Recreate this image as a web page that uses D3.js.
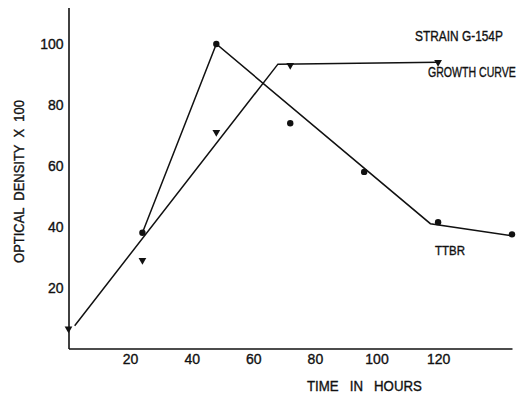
<!DOCTYPE html>
<html><head><meta charset="utf-8">
<script src="https://cdn.jsdelivr.net/npm/d3@7"></script>
<style>
html,body{margin:0;padding:0;background:#fff;}
svg text{font-family:"Liberation Sans",Arial,sans-serif;fill:#111;stroke:#111;stroke-width:0.35px;white-space:pre;}
</style></head>
<body>
<svg id="c" width="521" height="396"></svg>
<script>
// Data
const xTicks = [20, 40, 60, 80, 100, 120];
const yTicks = [20, 40, 60, 80, 100];
// Growth curve (triangles)
const growthHours = [0, 24, 48, 72, 120];
const growthValues = [6.5, 29, 71, 93, 94];
const growthLineHours = [2, 68, 120];
const growthLineValues = [7.5, 93.4, 94];
// TTBR (circles)
const ttbrHours = [24, 48, 72, 96, 120, 144];
const ttbrValues = [38, 100, 74, 58, 41.5, 37.5];
const ttbrLineHours = [24, 48, 117.5, 144];
const ttbrLineValues = [38, 100, 41, 37];

const svg = d3.select("#c");
const x = d3.scaleLinear().domain([0, 144]).range([68.5, 512]);
const y = d3.scaleLinear().domain([0, 112]).range([348.5, 7.5]);

// axes
const xAxis = d3.axisBottom(x).tickValues(xTicks).tickSize(0).tickSizeOuter(0).tickPadding(6);
const gx = svg.append("g").attr("transform", `translate(0,${y(0)})`).call(xAxis);
gx.select(".domain").attr("stroke", "#111").attr("stroke-width", 1.6);
gx.selectAll("text").attr("font-size", 14).attr("dy", "0.72em").attr("y", 5);

const yAxis = d3.axisLeft(y).tickValues(yTicks).tickSize(0).tickSizeOuter(0).tickPadding(5);
const gy = svg.append("g").attr("transform", `translate(${x(0)},0)`).call(yAxis);
gy.select(".domain").attr("stroke", "#111").attr("stroke-width", 1.6);
gy.selectAll("text").attr("font-size", 14);

// lines
const line = d3.line().x(d => x(d[0])).y(d => y(d[1]));
svg.append("path").datum(growthLineHours.map((h, i) => [h, growthLineValues[i]]))
  .attr("d", line).attr("fill", "none").attr("stroke", "#111").attr("stroke-width", 1.5);
svg.append("path").datum(ttbrLineHours.map((h, i) => [h, ttbrLineValues[i]]))
  .attr("d", line).attr("fill", "none").attr("stroke", "#111").attr("stroke-width", 1.5);

// markers
const tri = d3.symbol().type(d3.symbolTriangle).size(26);
svg.selectAll(".tri").data(growthHours.map((h, i) => [h, growthValues[i]])).enter()
  .append("path").attr("class", "tri").attr("d", tri)
  .attr("transform", d => `translate(${x(d[0])},${y(d[1])}) rotate(180)`)
  .attr("fill", "#111");
svg.selectAll(".dot").data(ttbrHours.map((h, i) => [h, ttbrValues[i]])).enter()
  .append("circle").attr("class", "dot")
  .attr("cx", d => x(d[0])).attr("cy", d => y(d[1])).attr("r", 3.2).attr("fill", "#111");

// labels: scaled horizontally to match the reference widths
function label(t, xx, yy, w, fs, rot) {
  const el = svg.append("text").attr("xml:space", "preserve").text(t).attr("font-size", fs);
  const nat = el.node().getComputedTextLength();
  const s = w / nat;
  if (rot) {
    el.attr("text-anchor", "middle")
      .attr("transform", `translate(${xx},${yy}) rotate(-90) scale(${s},1)`);
  } else {
    el.attr("transform", `translate(${xx},${yy}) scale(${s},1)`);
  }
  return el;
}
label("STRAIN G-154P", 415, 41, 88, 14);
label("GROWTH CURVE", 428, 77, 88, 14);
label("TTBR", 435, 255, 30, 12);
label("TIME   IN   HOURS", 307, 391, 115, 14);
label("OPTICAL  DENSITY  X  100", 23.5, 181.5, 163, 14, true);
</script>
</body></html>
